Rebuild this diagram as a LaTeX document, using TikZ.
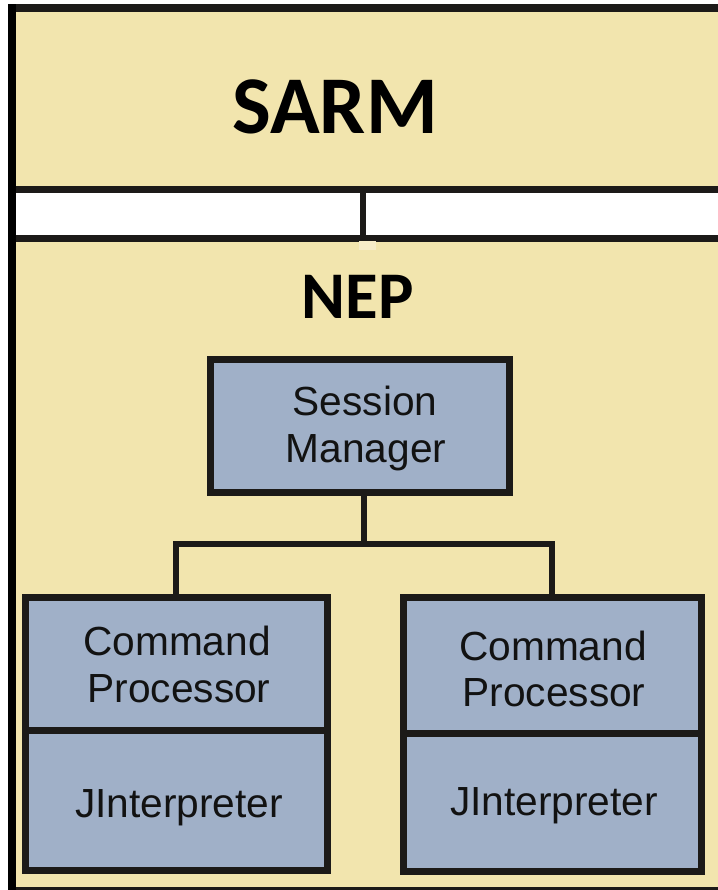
\documentclass[tikz,border=0pt]{standalone}
\usepackage{fontspec}
\setmainfont{Liberation Sans}
\newfontfamily\headfont{Carlito}
\definecolor{bgbeige}{RGB}{242,229,174}
\definecolor{boxblue}{RGB}{160,176,200}
\definecolor{linedark}{RGB}{28,26,24}
\definecolor{notchbeige}{RGB}{246,236,200}
\tikzset{
  comp/.style={draw=linedark, fill=boxblue, line width=5.25pt, rectangle, inner sep=0pt, outer sep=0pt},
  conn/.style={draw=linedark, line width=4.5pt},
  lbl/.style={anchor=base, inner sep=0pt, text=black!93, font=\fontsize{30.5pt}{36pt}\selectfont},
  head/.style={anchor=base, inner sep=0pt, text=black, font=\headfont\bfseries},
}
\begin{document}
\begin{tikzpicture}[x=0.75pt,y=-0.75pt]
\useasboundingbox (0,0) rectangle (718,890);
\fill[white] (0,0) rectangle (718,890);
% background panel
\fill[bgbeige] (16,12) rectangle (718,887);
\fill[black] (8,4) rectangle (16,890);
\fill[linedark] (16,4) rectangle (718,12);
\fill[linedark] (16,887) rectangle (718,890);
% white interface bar
\fill[white] (16,193) rectangle (718,235);
\fill[linedark] (16,186) rectangle (718,193);
\fill[linedark] (16,235) rectangle (718,242);
\fill[linedark] (360,193) rectangle (366,235);
\fill[notchbeige] (359,241) rectangle (376,250);
% titles
\node[head, font=\headfont\bfseries\fontsize{61.5pt}{70pt}\selectfont] (sarm) at (335,133) {SARM};
\node[head, font=\headfont\bfseries\fontsize{50pt}{60pt}\selectfont] (nep) at (357.5,318) {NEP};
% boxes
\node[comp, minimum width=299*0.75pt, minimum height=133*0.75pt] (sm) at (360,426) {};
\node[comp, minimum width=301.5*0.75pt, minimum height=133*0.75pt] (cp1) at (176.25,663.5) {};
\node[comp, minimum width=301.5*0.75pt, minimum height=140.5*0.75pt] (ji1) at (176.25,800.25) {};
\node[comp, minimum width=298.5*0.75pt, minimum height=136*0.75pt] (cp2) at (552.25,665) {};
\node[comp, minimum width=298.5*0.75pt, minimum height=138.5*0.75pt] (ji2) at (552.25,802.25) {};
% labels
\node[lbl] (smA) at (365,415) {Session};
\node[lbl] (smB) at (366,462) {Manager};
\node[lbl] (cp1A) at (177,655) {Command};
\node[lbl] (cp1B) at (179,702) {Processor};
\node[lbl] (ji1A) at (179,817) {JInterpreter};
\node[lbl] (cp2A) at (553,660) {Command};
\node[lbl] (cp2B) at (554,706) {Processor};
\node[lbl] (ji2A) at (554,815) {JInterpreter};
% connectors
\coordinate (j) at (364,544);
\draw[conn] (j |- sm.south) -- (j);
\draw[conn] (cp1.north) |- (j) -| (cp2.north);
\end{tikzpicture}
\end{document}
